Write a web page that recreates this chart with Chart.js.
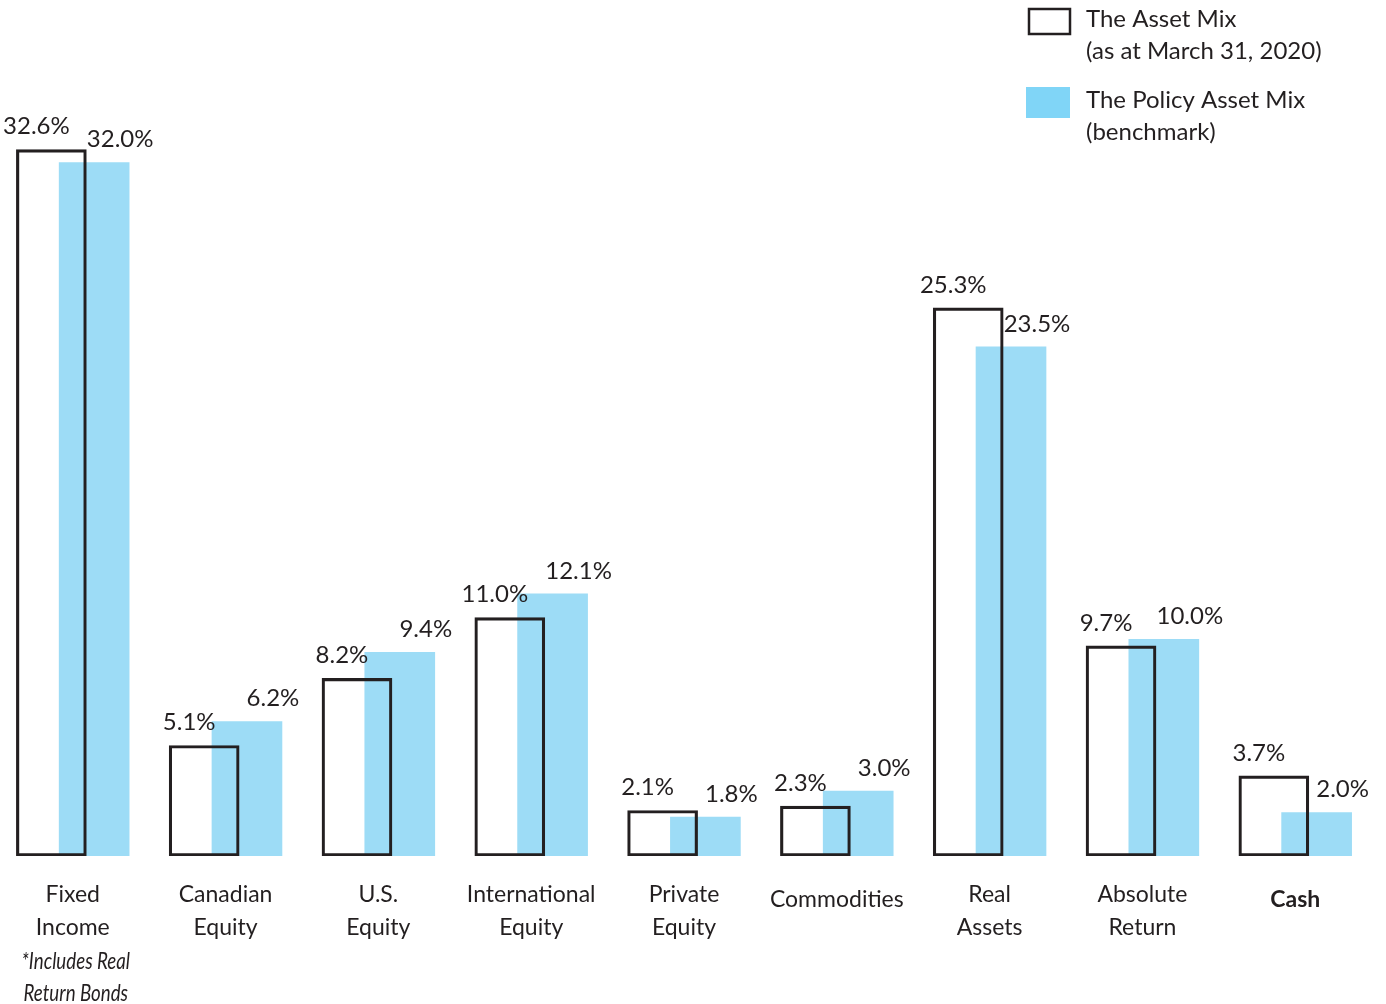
<!DOCTYPE html>
<html lang="en">
<head>
    <meta charset="UTF-8">
    <title>Asset Mix vs Policy Asset Mix</title>
    <script src="https://cdn.jsdelivr.net/npm/chart.js"></script>
    <style>
        html, body { margin: 0; padding: 0; background: white; }
        canvas { display: block; }
    </style>
</head>
<body>

<canvas id="mixChart" width="1386" height="1004"></canvas>

<script>
    // Categories (label lines)
    const categories = [
        ['Fixed', 'Income'],
        ['Canadian', 'Equity'],
        ['U.S.', 'Equity'],
        ['International', 'Equity'],
        ['Private', 'Equity'],
        ['Commodities'],
        ['Real', 'Assets'],
        ['Absolute', 'Return'],
        ['Cash']
    ];
    const footnoteLines = ['*Includes Real', 'Return Bonds']; // under Fixed Income
    const assetMix = [32.6, 5.1, 8.2, 11.0, 2.1, 2.3, 25.3, 9.7, 3.7];
    const policyMix = [32.0, 6.2, 9.4, 12.1, 1.8, 3.0, 23.5, 10.0, 2.0];
    const legendAsset = ['The Asset Mix', '(as at March 31, 2020)'];
    const legendPolicy = ['The Policy Asset Mix', '(benchmark)'];

    const FONT = 'Lato, "Open Sans", sans-serif';
    const TEXT = '#231f20';
    const BLUE = '#9ddcf6';

    // value labels above each bar, nudged outward from the pair
    const valueLabels = {
        id: 'valueLabels',
        afterDatasetsDraw(chart) {
            const ctx = chart.ctx;
            ctx.save();
            ctx.font = '24px ' + FONT;
            ctx.fillStyle = TEXT;
            ctx.textAlign = 'center';
            ctx.textBaseline = 'bottom';
            chart.data.datasets.forEach((ds, di) => {
                const shift = di === 0 ? -15 : 26;
                chart.getDatasetMeta(di).data.forEach((bar, i) => {
                    ctx.fillText(ds.data[i].y.toFixed(1) + '%', bar.x + shift, bar.y - 11);
                });
            });
            ctx.restore();
        }
    };

    // category names under the pairs and the legend in the top right
    const extraText = {
        id: 'extraText',
        afterDraw(chart) {
            const ctx = chart.ctx;
            const xs = chart.scales.x;
            ctx.save();
            ctx.fillStyle = TEXT;
            ctx.textAlign = 'center';
            ctx.textBaseline = 'middle';
            categories.forEach((lines, i) => {
                const cx = xs.getPixelForValue(i);
                const y0 = lines.length === 1 ? 900 : 895;
                ctx.font = (i === categories.length - 1 ? 'bold ' : '') + '23px ' + FONT;
                lines.forEach((t, k) => ctx.fillText(t, cx, y0 + k * 33));
                if (i === 0) {
                    // condensed italic footnote
                    ctx.save();
                    ctx.translate(cx + 3, 0);
                    ctx.scale(0.78, 1);
                    ctx.font = 'italic 24px ' + FONT;
                    footnoteLines.forEach((t, k) => ctx.fillText(t, 0, 961 + k * 32));
                    ctx.restore();
                }
            });

            // legend
            ctx.textAlign = 'left';
            ctx.font = '24px ' + FONT;
            ctx.strokeStyle = TEXT;
            ctx.lineWidth = 2.5;
            ctx.strokeRect(1029, 9, 41, 25);
            legendAsset.forEach((t, k) => ctx.fillText(t, 1086, 19 + k * 32));
            ctx.fillStyle = '#80d5f7';
            ctx.fillRect(1026, 87, 44, 31);
            ctx.fillStyle = TEXT;
            legendPolicy.forEach((t, k) => ctx.fillText(t, 1086, 100 + k * 32));
            ctx.restore();
        }
    };

    const ctx = document.getElementById('mixChart').getContext('2d');
    const mixChart = new Chart(ctx, {
        type: 'bar',
        data: {
            datasets: [
                {
                    label: legendAsset.join(' '),
                    data: assetMix.map((v, i) => ({ x: i - 0.14, y: v })),
                    backgroundColor: 'rgba(0,0,0,0)',
                    borderColor: TEXT,
                    borderWidth: 2.5,
                    borderSkipped: false
                },
                {
                    label: legendPolicy.join(' '),
                    data: policyMix.map((v, i) => ({ x: i + 0.14, y: v })),
                    backgroundColor: BLUE,
                    borderWidth: 0
                }
            ]
        },
        options: {
            responsive: false,
            animation: false,
            grouped: false,
            barThickness: 70,
            layout: { padding: { top: 76, bottom: 148, left: 4, right: 22 } },
            scales: {
                x: { type: 'linear', min: -0.45, max: 8.45, offset: false, display: false },
                y: { min: 0, max: 36, display: false }
            },
            plugins: {
                legend: { display: false },
                tooltip: { enabled: false }
            }
        },
        plugins: [valueLabels, extraText]
    });
</script>

</body>
</html>
